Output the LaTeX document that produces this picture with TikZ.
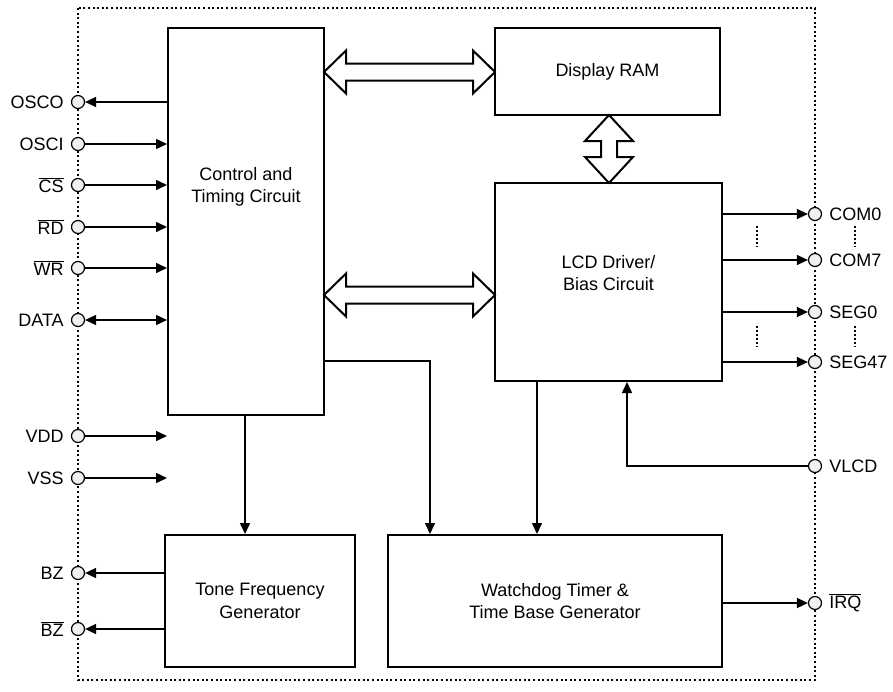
\documentclass[tikz,border=0pt]{standalone}
\usepackage{fontspec}
\setmainfont{Liberation Sans}
\usetikzlibrary{arrows.meta,calc}
\begin{document}
\begin{tikzpicture}[x=1pt,y=-1pt,
  box/.style={draw,line width=2pt,inner sep=0pt,font=\fontsize{18}{22.5}\selectfont,align=center},
  txt/.style={font=\fontsize{18}{22.5}\selectfont,align=center,inner sep=0pt},
  conn/.style={line width=1.5pt},
  arr/.style={conn,-{Triangle[length=11pt,width=10pt]}},
  darr/.style={conn,{Triangle[length=11pt,width=10pt]}-{Triangle[length=11pt,width=10pt]}},
  pinc/.style={circle,draw,line width=1.2pt,fill=gray!12,minimum size=13pt,inner sep=0pt},
  lbl/.style={font=\fontsize{18}{21}\selectfont,inner sep=0pt},
  ll/.style={label={[lbl,label distance=7pt]left:{#1}}},
  rl/.style={label={[lbl,label distance=7pt]right:{#1}}},
  dbl/.style={draw,line width=2pt,line join=miter,fill=white},
  ell/.style={line width=1.5pt,dash pattern=on 2pt off 2pt},
  border/.style={line width=1.5pt,dash pattern=on 2pt off 2.6pt}]
\useasboundingbox (0,0) rectangle (893,691);

% outer dotted border
\draw[border] (78,8) rectangle (815,680);

% blocks
\node[box,minimum width=156pt,minimum height=387pt] (ctrl) at (246,221.5) {};
\node[txt] (ctrltxt) at (246,187) {Control and\\Timing Circuit};
\node[box,minimum width=225pt,minimum height=87pt] (ram) at (607.5,71.5) {Display RAM};
\node[box,minimum width=227pt,minimum height=198pt] (lcd) at (608.5,282) {};
\node[txt] (lcdtxt) at (608.5,273) {LCD Driver/\\Bias Circuit};
\node[box,minimum width=190pt,minimum height=132pt] (tone) at (260,601) {Tone Frequency\\Generator};
\node[box,minimum width=334pt,minimum height=132pt] (wdt) at (555,601) {Watchdog Timer \&\\Time Base Generator};

% double arrows
\draw[dbl] (324,72) -- ++(22,-21.5) -- ++(0,13) -- (473,63.5) -- ++(0,-13) -- (495,72)
  -- ++(-22,21.5) -- ++(0,-13) -- (346,80.5) -- ++(0,13) -- cycle;
\draw[dbl] (324,295) -- ++(22,-21.5) -- ++(0,13) -- (473,286.5) -- ++(0,-13) -- (495,295)
  -- ++(-22,21.5) -- ++(0,-13) -- (346,303.5) -- ++(0,13) -- cycle;
\draw[dbl] (609,115) -- ++(24,26) -- ++(-16,0) -- (617,157) -- ++(16,0) -- (609,183)
  -- ++(-24,-26) -- ++(16,0) -- (601,141) -- ++(-16,0) -- cycle;

% left pins
\node[pinc,ll=OSCO] (osco) at (78,102) {};
\node[pinc,ll=OSCI] (osci) at (78,144) {};
\node[pinc,ll={$\overline{\mbox{CS}}$}] (cs) at (78,185) {};
\node[pinc,ll={$\overline{\mbox{RD}}$}] (rd) at (78,227) {};
\node[pinc,ll={$\overline{\mbox{WR}}$}] (wr) at (78,268) {};
\node[pinc,ll=DATA] (data) at (78,320) {};
\node[pinc,ll=VDD] (vdd) at (78,436) {};
\node[pinc,ll=VSS] (vss) at (78,478) {};
\node[pinc,ll=BZ] (bz) at (78,573) {};
\node[pinc,ll={$\overline{\mbox{BZ}}$}] (bzn) at (78,629) {};

% right pins
\node[pinc,rl=COM0] (com0) at (815,214) {};
\node[pinc,rl=COM7] (com7) at (815,260) {};
\node[pinc,rl=SEG0] (seg0) at (815,312) {};
\node[pinc,rl=SEG47] (seg47) at (815,362) {};
\node[pinc,rl=VLCD] (vlcd) at (815,466) {};
\node[pinc,rl={$\overline{\mbox{IRQ}}$}] (irq) at (815,603) {};

% left connectors
\draw[arr] (osco -| ctrl.west) -- (osco);
\draw[arr] (osci) -- (osci -| ctrl.west);
\draw[arr] (cs) -- (cs -| ctrl.west);
\draw[arr] (rd) -- (rd -| ctrl.west);
\draw[arr] (wr) -- (wr -| ctrl.west);
\draw[darr] (data) -- (data -| ctrl.west);
\draw[arr] (vdd) -- (vdd -| ctrl.west);
\draw[arr] (vss) -- (vss -| ctrl.west);
\draw[arr] (bz -| tone.west) -- (bz);
\draw[arr] (bzn -| tone.west) -- (bzn);

% right connectors
\draw[arr] (com0 -| lcd.east) -- (com0);
\draw[arr] (com7 -| lcd.east) -- (com7);
\draw[arr] (seg0 -| lcd.east) -- (seg0);
\draw[arr] (seg47 -| lcd.east) -- (seg47);
\draw[arr] (irq -| wdt.east) -- (irq);
\coordinate (vl) at (627,466);
\draw[arr] (vlcd) -- (vl) -- (vl |- lcd.south);

% internal connectors
\coordinate (c1) at (245,475);
\draw[arr] (c1 |- ctrl.south) -- (c1 |- tone.north);
\coordinate (c2) at (430,361);
\draw[arr] (c2 -| ctrl.east) -- (c2) -- (c2 |- wdt.north);
\coordinate (c3) at (537,430);
\draw[arr] (c3 |- lcd.south) -- (c3 |- wdt.north);

% ellipses
\draw[ell] (757,226) -- (757,247);
\draw[ell] (757,326) -- (757,347);
\draw[ell] (855,226) -- (855,247);
\draw[ell] (855,326) -- (855,347);
\end{tikzpicture}
\end{document}
